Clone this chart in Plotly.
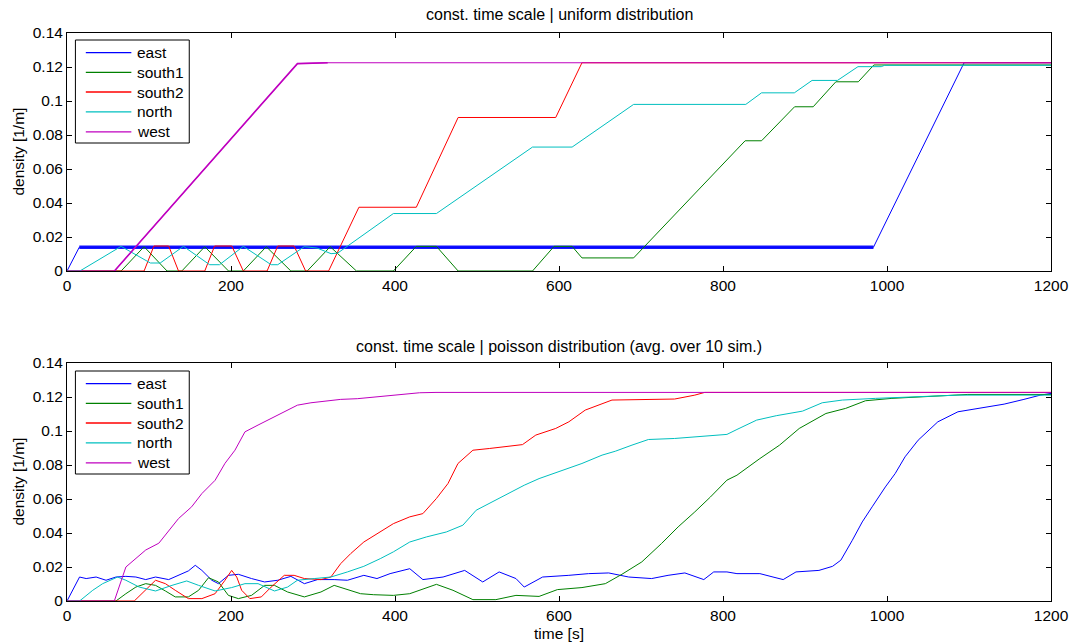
import plotly.graph_objects as go

# ---------------- data ----------------
series_names = ["east", "south1", "south2", "north", "west"]
series_colors = ["#0000ff", "#008000", "#ff0000", "#00bfbf", "#bf00bf"]

x_ticks = [0, 200, 400, 600, 800, 1000, 1200]
x_tick_labels = ["0", "200", "400", "600", "800", "1000", "1200"]
y_ticks = [0, 0.02, 0.04, 0.06, 0.08, 0.1, 0.12, 0.14]
y_tick_labels = ["0", "0.02", "0.04", "0.06", "0.08", "0.1", "0.12", "0.14"]

title_top = "const. time scale | uniform distribution"
title_bottom = "const. time scale | poisson distribution (avg. over 10 sim.)"
x_label = "time [s]"
y_label = "density [1/m]"

# uniform distribution
east_u_t = [0, 15, 983.5, 1094, 1200]
east_u_v = [0, 0.014, 0.014, 0.1225, 0.1225]

south1_u_t = [0, 66, 94, 122, 140, 168, 197, 215, 243, 273, 293, 321, 353, 398, 426,
              450.5, 477, 567.7, 594, 616, 628, 691, 827, 847, 887.3, 910, 937.6, 965,
              984, 1200]
south1_u_v = [0, 0, 0.0143, 0, 0, 0.0143, 0, 0, 0.0143, 0, 0, 0.0143, 0, 0, 0.0145,
              0.0145, 0, 0, 0.0145, 0.0145, 0.0077, 0.0077, 0.0766, 0.0766, 0.0966,
              0.0966, 0.1113, 0.1113, 0.1212, 0.1212]

south2_u_t = [0, 94, 106, 124, 136, 168, 180, 201, 215, 244, 257, 277, 291, 319, 356,
              426, 477, 596, 628, 1200]
south2_u_v = [0, 0, 0.0147, 0.0147, 0, 0, 0.0147, 0.0147, 0, 0, 0.0147, 0.0147, 0, 0,
              0.0375, 0.0375, 0.0903, 0.0903, 0.1225, 0.1225]

north_u_t = [0, 15.7, 66, 101.7, 113.7, 142, 174, 186, 215, 249, 257, 289.3, 305,
             322, 330, 398, 450.5, 567.7, 616, 691, 827.8, 847, 887, 908.6, 939.6,
             964.6, 993, 997, 1200]
north_u_v = [0, 0, 0.0145, 0.0047, 0.0047, 0.0145, 0.0037, 0.0037, 0.0145, 0.0037,
             0.0037, 0.0143, 0.0135, 0.0102, 0.0105, 0.0338, 0.0338, 0.0729, 0.0729,
             0.098, 0.098, 0.1048, 0.1048, 0.1121, 0.1121, 0.1202, 0.1202, 0.121, 0.121]

west_u_t = [0, 57.8, 281, 318, 1200]
west_u_v = [0, 0, 0.122, 0.1225, 0.1225]

# poisson distribution (avg. over 10 sim.)
east_p_t = [0, 15.3, 23.4, 35.5, 47.6, 59.7, 71.8, 84, 96, 108, 124, 136, 148, 156.4,
            164.5, 176.6, 184.7, 196.8, 209, 225, 241, 257, 273, 289.5, 305.6, 325.8,
            342, 362, 378, 394, 410.5, 418, 434, 458.6, 485, 507, 527, 547.5, 557.6,
            580, 612, 636, 660.6, 685, 713, 733, 753.5, 776.6, 788.7, 804.8, 817, 845,
            861, 873.4, 889, 917, 933.6, 943.7, 957.7, 969.8, 981.9, 998, 1010, 1022,
            1038, 1062, 1086.5, 1110.6, 1142.8, 1167, 1187, 1200]
east_p_v = [0, 0.0141, 0.0132, 0.0141, 0.0122, 0.0141, 0.0145, 0.0141, 0.0126, 0.0141,
            0.0126, 0.0151, 0.0177, 0.021, 0.018, 0.0122, 0.0102, 0.0151, 0.0157,
            0.0132, 0.0112, 0.0122, 0.0145, 0.0102, 0.0126, 0.0126, 0.0122, 0.0151,
            0.0132, 0.0161, 0.018, 0.019, 0.0126, 0.0141, 0.018, 0.0112, 0.0171, 0.0132,
            0.0082, 0.0141, 0.0151, 0.0161, 0.0165, 0.0141, 0.0132, 0.0151, 0.0165,
            0.0126, 0.0171, 0.0171, 0.0161, 0.0161, 0.0141, 0.0126, 0.0171, 0.018,
            0.0204, 0.024, 0.0357, 0.0465, 0.0554, 0.0671, 0.075, 0.0848, 0.0946,
            0.1054, 0.1113, 0.1133, 0.1158, 0.1186, 0.1211, 0.1221]

south1_p_t = [0, 59.7, 71.8, 84, 96, 108, 120, 132, 148, 160.5, 172.6, 184.7, 196.8,
              209, 225, 241, 253, 269, 289.5, 309.7, 325.8, 342, 358, 374, 398, 418,
              450.5, 470.7, 495, 523, 547.5, 575.7, 598, 628, 656.5, 676.7, 701, 725,
              745.3, 765.6, 784.7, 804.8, 817, 845, 869, 893, 925.5, 949.6, 973.8, 1006,
              1046, 1098.6, 1200]
south1_p_v = [0, 0, 0.0043, 0.0082, 0.0102, 0.0092, 0.0059, 0.0024, 0.0024, 0.0063,
              0.0137, 0.0112, 0.0033, 0.0014, 0.0033, 0.0092, 0.0092, 0.0053, 0.0024,
              0.0053, 0.0092, 0.0067, 0.0043, 0.0037, 0.0033, 0.0043, 0.0098, 0.0063,
              0.0008, 0.0008, 0.0033, 0.0027, 0.0067, 0.0079, 0.0102, 0.0157, 0.023,
              0.0338, 0.0436, 0.0524, 0.0612, 0.0711, 0.074, 0.0838, 0.0917, 0.1015,
              0.1103, 0.1133, 0.1178, 0.1192, 0.1201, 0.1215, 0.1215]

south2_p_t = [0, 82, 108, 120, 132, 148, 164.5, 180.6, 192.7, 200.8, 207, 213, 223, 237,
              249, 265, 277, 289.5, 309.7, 321.8, 333.8, 346, 362, 382, 398, 418, 434,
              450.5, 464.6, 476.8, 495, 515, 535, 555.5, 571.7, 596, 612, 632, 664.6,
              701, 741, 765.6, 777.7, 1200]
south2_p_v = [0, 0, 0.0122, 0.0102, 0.0063, 0.0014, 0.0014, 0.0043, 0.0122, 0.018,
              0.0141, 0.0063, 0.0014, 0.0024, 0.0082, 0.0151, 0.0151, 0.0132, 0.0126,
              0.0141, 0.022, 0.0279, 0.0347, 0.0406, 0.0455, 0.0495, 0.0514, 0.0603,
              0.0691, 0.0809, 0.0887, 0.0897, 0.0907, 0.092, 0.0976, 0.1015, 0.1054,
              0.1123, 0.1182, 0.1186, 0.1188, 0.1211, 0.1227, 0.1227]

north_p_t = [0, 15.3, 31.4, 43.5, 61.7, 71.8, 88, 108, 128, 146, 160.5, 180.6, 200.8,
             217, 233, 253, 269, 281, 301.6, 321.8, 342, 362, 382, 398, 418, 438.4,
             462.6, 482.8, 499, 519, 539.5, 557.6, 575.7, 600, 628, 652.5, 668.7, 689,
             709, 741, 765.6, 804.8, 817, 841, 865, 897, 921, 945.6, 986, 1026, 1086.5,
             1200]
north_p_v = [0, 0, 0.0063, 0.0102, 0.0141, 0.0122, 0.0082, 0.0059, 0.0092, 0.0118,
             0.0092, 0.0059, 0.0079, 0.0102, 0.0102, 0.0059, 0.0082, 0.0122, 0.0132,
             0.0141, 0.0171, 0.0204, 0.0249, 0.0289, 0.0347, 0.0377, 0.0406, 0.0446,
             0.0534, 0.0583, 0.0632, 0.0681, 0.072, 0.076, 0.0809, 0.0858, 0.0881,
             0.0917, 0.095, 0.0956, 0.0966, 0.098, 0.1009, 0.1064, 0.109, 0.1117, 0.1166,
             0.1182, 0.1192, 0.1201, 0.1211, 0.1211]

west_p_t = [0, 57.7, 71.8, 83.9, 96, 112, 124, 136, 152, 164.5, 180.6, 192.7, 204.8,
            217, 233, 249, 265, 281, 297.5, 313.7, 333.8, 354, 374, 410.5, 430, 450, 1200]
west_p_v = [0, 0, 0.020, 0.025, 0.030, 0.034, 0.041, 0.0485, 0.0554, 0.0632, 0.071,
            0.081, 0.0887, 0.0995, 0.1035, 0.1074, 0.1113, 0.1152, 0.1166, 0.1176,
            0.1186, 0.119, 0.120, 0.1215, 0.1225, 0.1227, 0.1227]

uniform = [(east_u_t, east_u_v), (south1_u_t, south1_u_v), (south2_u_t, south2_u_v),
           (north_u_t, north_u_v), (west_u_t, west_u_v)]
poisson = [(east_p_t, east_p_v), (south1_p_t, south1_p_v), (south2_p_t, south2_p_v),
           (north_p_t, north_p_v), (west_p_t, west_p_v)]

# ---------------- figure ----------------
FONT = "Liberation Sans, Arial, Helvetica, sans-serif"
W, H = 1081, 644
ML, MR, MT, MB = 67, 20, 33, 43
PH = H - MT - MB
PW = W - ML - MR

def py(px):  # pixel (from top) -> paper y
    return 1 - (px - MT) / PH

def pxx(px):  # pixel (from left) -> paper x
    return (px - ML) / PW

fig = go.Figure()

for i, (t, v) in enumerate(uniform):
    fig.add_trace(go.Scatter(x=t, y=v, mode="lines", name=series_names[i],
                             line=dict(color=series_colors[i], width=1),
                             xaxis="x", yaxis="y", showlegend=False))
    if i == 0:
        # dense saw-tooth band of the east series
        fig.add_trace(go.Scatter(x=t[1:3], y=v[1:3], mode="lines", showlegend=False,
                                 line=dict(color=series_colors[i], width=3.5),
                                 opacity=0.9, xaxis="x", yaxis="y", hoverinfo="skip"))
    if i == 4:
        fig.add_trace(go.Scatter(x=t[1:4], y=v[1:4], mode="lines", showlegend=False,
                                 line=dict(color=series_colors[i], width=1.6),
                                 xaxis="x", yaxis="y", hoverinfo="skip"))

for i, (t, v) in enumerate(poisson):
    fig.add_trace(go.Scatter(x=t, y=v, mode="lines", name=series_names[i],
                             line=dict(color=series_colors[i], width=1),
                             xaxis="x2", yaxis="y2", showlegend=False))

axis_common = dict(showline=True, linecolor="black", linewidth=1, mirror="ticks",
                   ticks="inside", ticklen=5, tickcolor="black", showgrid=False,
                   zeroline=False, tickfont=dict(family=FONT, size=15.5, color="black"))

top_dom = [py(271), 1]
bot_dom = [0, py(363)]

# manual legends (MATLAB style boxes)
shapes = []
annotations = []
entry_offsets = [12.7, 32.4, 52.0, 71.8, 91.8]
for box_top in (40, 371):
    shapes.append(dict(type="rect", xref="paper", yref="paper",
                       x0=pxx(75.5), x1=pxx(190.5), y0=py(box_top), y1=py(box_top + 103),
                       line=dict(color="black", width=1), fillcolor="white", layer="above"))
    for i, name in enumerate(series_names):
        yy = py(box_top + entry_offsets[i])
        shapes.append(dict(type="line", xref="paper", yref="paper",
                           x0=pxx(86), x1=pxx(132), y0=yy, y1=yy,
                           line=dict(color=series_colors[i], width=1.3), layer="above"))
        annotations.append(dict(text=name, x=pxx(136), y=yy, xref="paper", yref="paper",
                                showarrow=False, xanchor="left", yanchor="middle",
                                font=dict(family=FONT, size=15.5, color="black")))

annotations += [
    dict(text=title_top, x=0.5, y=py(15), xref="paper", yref="paper",
         showarrow=False, xanchor="center", yanchor="middle",
         font=dict(family=FONT, size=16, color="black")),
    dict(text=title_bottom, x=0.5, y=py(346), xref="paper", yref="paper",
         showarrow=False, xanchor="center", yanchor="middle",
         font=dict(family=FONT, size=16, color="black")),
    dict(text=x_label, x=0.5, y=py(633), xref="paper", yref="paper",
         showarrow=False, xanchor="center", yanchor="middle",
         font=dict(family=FONT, size=15.5, color="black")),
    dict(text=y_label, x=pxx(17), y=py(152), xref="paper", yref="paper",
         showarrow=False, xanchor="center", yanchor="middle", textangle=-90,
         font=dict(family=FONT, size=15.5, color="black")),
    dict(text=y_label, x=pxx(17), y=py(482), xref="paper", yref="paper",
         showarrow=False, xanchor="center", yanchor="middle", textangle=-90,
         font=dict(family=FONT, size=15.5, color="black")),
]

fig.update_layout(
    width=W, height=H,
    margin=dict(l=ML, r=MR, t=MT, b=MB),
    paper_bgcolor="white", plot_bgcolor="white",
    font=dict(family=FONT, size=15.5, color="black"),
    showlegend=False,
    xaxis=dict(domain=[0, 1], range=[0, 1200], anchor="y", tickvals=x_ticks,
               ticktext=x_tick_labels, **axis_common),
    yaxis=dict(domain=top_dom, range=[0, 0.14], anchor="x", tickvals=y_ticks,
               ticktext=y_tick_labels, **axis_common),
    xaxis2=dict(domain=[0, 1], range=[0, 1200], anchor="y2", tickvals=x_ticks,
                ticktext=x_tick_labels, **axis_common),
    yaxis2=dict(domain=bot_dom, range=[0, 0.14], anchor="x2", tickvals=y_ticks,
                ticktext=y_tick_labels, **axis_common),
    shapes=shapes,
    annotations=annotations,
)

fig.write_html("out.html", config={"displayModeBar": False},
               post_script="document.body.style.margin='0';document.body.style.overflow='hidden';")
